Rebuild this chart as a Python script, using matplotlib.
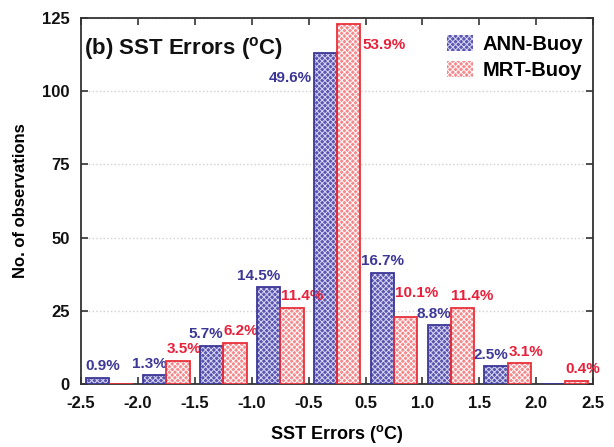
import numpy as np
import matplotlib as mpl
mpl.use("Agg")
import matplotlib.pyplot as plt
from matplotlib.patches import Patch

plt.rcParams['font.family'] = ['Liberation Sans', 'DejaVu Sans']
plt.rcParams['font.weight'] = 'bold'
plt.rcParams['axes.labelweight'] = 'bold'
plt.rcParams['mathtext.fontset'] = 'custom'
plt.rcParams['mathtext.rm'] = 'Liberation Sans:bold'
plt.rcParams['mathtext.it'] = 'Liberation Sans:bold'
plt.rcParams['mathtext.bf'] = 'Liberation Sans:bold'
plt.rcParams['hatch.linewidth'] = 0.7

# SST error bins (edges) and counts per bin
edges = ['-2.5', '-2.0', '-1.5', '-1.0', '-0.5', '0.5', '1.0', '1.5', '2.0', '2.5']
ann_counts = [2, 3, 13, 33, 113, 38, 20, 6, 0]
mrt_counts = [0, 8, 14, 26, 123, 23, 26, 7, 1]
ann_pct = ['0.9%', '1.3%', '5.7%', '14.5%', '49.6%', '16.7%', '8.8%', '2.5%', '']
mrt_pct = ['', '3.5%', '6.2%', '11.4%', '53.9%', '10.1%', '11.4%', '3.1%', '0.4%']

blue = '#3c3796'
red = '#e8203a'
ann_fill, ann_dot = '#5a56b0', '#d8d6f2'
mrt_fill, mrt_dot = '#f6898c', '#ffffff'

fig = plt.figure(figsize=(6.14, 4.47), dpi=100)
ax = fig.add_axes([0.132, 0.141, 0.834, 0.819])

x = np.arange(len(ann_counts))
w = 0.41
ann_left = x + 0.5 - w
mrt_left = x + 0.5

# dotted fill: solid colour with a dense light cross-hatch on top
ax.bar(ann_left, ann_counts, width=w, align='edge', facecolor=ann_fill,
       edgecolor=ann_dot, hatch='xxxxxx', linewidth=0, zorder=3)
ax.bar(mrt_left, mrt_counts, width=w, align='edge', facecolor=mrt_fill,
       edgecolor=mrt_dot, hatch='xxxxxx', linewidth=0, zorder=3)
# outlines
ax.bar(ann_left, ann_counts, width=w, align='edge', fill=False,
       edgecolor='#3c3796', linewidth=1.3, zorder=4)
ax.bar(mrt_left, mrt_counts, width=w, align='edge', fill=False,
       edgecolor='#e8303a', linewidth=1.3, zorder=4)

# percentage labels
fs = 11
gap = 1.6
for i in range(len(x)):
    if ann_pct[i]:
        if i == 4:
            ax.text(ann_left[i] - 0.03, ann_counts[i] - 6, ann_pct[i], color=blue,
                    fontsize=fs, ha='right', va='top')
        elif i == 0:
            ax.text(ann_left[i] - 0.02, ann_counts[i] + gap, ann_pct[i], color=blue,
                    fontsize=fs, ha='left', va='bottom')
        elif i == 5:
            ax.text(ann_left[i] + w / 2, ann_counts[i] + gap, ann_pct[i], color=blue,
                    fontsize=fs, ha='center', va='bottom')
        else:
            ax.text(ann_left[i] + w, ann_counts[i] + gap, ann_pct[i], color=blue,
                    fontsize=fs, ha='right', va='bottom')
    if mrt_pct[i]:
        if i == 4:
            ax.text(mrt_left[i] + w + 0.04, mrt_counts[i] - 5, mrt_pct[i], color=red,
                    fontsize=fs, ha='left', va='top')
        elif i == 5:
            # lifted clear of the neighbouring 8.8% label
            ax.text(mrt_left[i] + 0.01, mrt_counts[i] + gap + 4, mrt_pct[i], color=red,
                    fontsize=fs, ha='left', va='bottom')
        else:
            ax.text(mrt_left[i] + 0.01, mrt_counts[i] + gap, mrt_pct[i], color=red,
                    fontsize=fs, ha='left', va='bottom')

ax.set_xlim(0, len(edges) - 1)
ax.set_ylim(0, 125)
ax.set_xticks(np.arange(len(edges)))
ax.set_xticklabels(edges)
ax.set_yticks([0, 25, 50, 75, 100, 125])
ax.tick_params(axis='both', direction='in', top=True, right=True, labelsize=12,
               length=5, width=1.2, colors='#333333', labelcolor='#111111')
ax.tick_params(axis='x', pad=9)
ax.tick_params(axis='y', pad=8)
ax.yaxis.grid(True, color='#d0d0d0', linestyle=':', linewidth=1.0, zorder=0)
for s in ax.spines.values():
    s.set_linewidth(1.3)
    s.set_color('#333333')

ax.set_xlabel(r'SST Errors ($^{o}$C)', fontsize=13, labelpad=8)
ax.set_ylabel('No. of observations', fontsize=12, labelpad=10)
ax.text(0.06, 114.5, r'(b) SST Errors ($^{o}$C)', fontsize=16, color='#111111',
        ha='left', va='center')

handles = [Patch(facecolor=ann_fill, edgecolor=ann_dot, hatch='xxxxxx', linewidth=0, label='ANN-Buoy'),
           Patch(facecolor=mrt_fill, edgecolor=mrt_dot, hatch='xxxxxx', linewidth=0, label='MRT-Buoy')]
ax.legend(handles=handles, loc='upper right', bbox_to_anchor=(0.997, 0.975),
          frameon=False, fontsize=14.5, handlelength=1.3, handleheight=0.8,
          borderaxespad=0, labelspacing=0.35, handletextpad=0.5)

fig.savefig('out.png', dpi=100)
